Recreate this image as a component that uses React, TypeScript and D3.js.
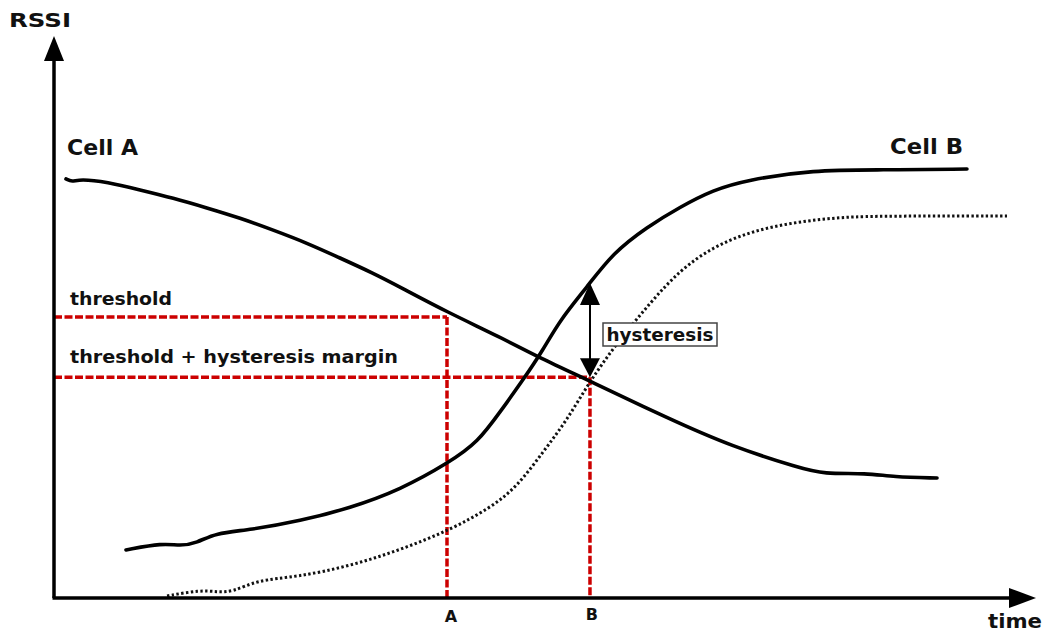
import React from "react";
import * as d3 from "d3";

// Time axis: 0..100, RSSI axis: 0..100 (arbitrary units)
const cellA: [number, number][] = [
  [1.22, 74.56], [1.83, 74.02], [2.65, 74.56], [5.4, 74.02], [8.76, 72.6], [12.12, 71.17],
  [15.58, 69.4], [18.94, 67.62], [22.3, 65.48], [25.76, 63.17], [29.12, 60.5], [32.48, 57.83],
  [35.23, 55.34], [40.02, 50.89], [45.42, 46.44], [49.49, 42.7], [54.58, 38.61], [62.42, 32.03],
  [69.14, 26.87], [75.97, 23.13], [78.31, 22.06], [82.79, 22.24], [85.44, 21.53], [89.92, 21.35],
];

const cellB: [number, number][] = [
  [7.33, 8.54], [11.1, 9.79], [12.83, 9.25], [14.56, 9.79], [16.4, 11.57], [19.96, 12.1],
  [25.05, 13.7], [30.14, 16.01], [35.23, 19.22], [40.33, 24.2], [43.18, 27.76], [45.42, 33.1],
  [47.76, 38.79], [49.8, 44.13], [51.53, 49.47], [54.28, 55.34], [56.92, 61.39], [60.39, 66.01],
  [63.75, 69.57], [67.11, 72.6], [70.57, 74.38], [77.29, 76.16], [84.11, 76.16], [92.97, 76.33],
];

const cellBDelayed: [number, number][] = [
  [11.51, 0.36], [14.87, 1.42], [16.6, 1.07], [18.23, 1.07], [20.67, 3.2], [24.75, 3.74],
  [30.14, 5.69], [35.23, 8.54], [40.33, 12.1], [44.4, 16.01], [47.15, 19.75], [49.95, 26.33],
  [52.24, 31.67], [54.58, 38.61], [57.33, 45.37], [60.69, 52.49], [63.75, 58.36], [67.11, 62.46],
  [70.57, 64.95], [73.93, 66.37], [77.29, 67.26], [80.75, 67.79], [84.11, 67.97], [97.05, 67.97],
];

const THRESHOLD = 50.0;
const MARGIN_LEVEL = 39.3;
const A_TIME = 40.02;
const B_TIME = 54.58;
const HYST_TOP = 56.05;

const tickLabels = ["A", "B"];
const tickTimes = [A_TIME, B_TIME];

const W = 1048;
const H = 632;
const FONT = "'DejaVu Sans', Verdana, sans-serif";
const RED = "#cc0000";

export default function App() {
  const x = d3.scaleLinear().domain([0, 100]).range([54, 1036]);
  const y = d3.scaleLinear().domain([0, 100]).range([598, 36]);
  const line = d3
    .line<[number, number]>()
    .x((d) => x(d[0]))
    .y((d) => y(d[1]))
    .curve(d3.curveBasis);

  const x0 = x(0);
  const y0 = y(0);
  const xEnd = x(100);
  const yEnd = y(100);

  const ax = x(B_TIME);
  const aTop = y(HYST_TOP);
  const aBot = y(MARGIN_LEVEL);

  return (
    <svg
      width={W}
      height={H}
      style={{ position: "absolute", left: 0, top: 0, background: "#fff" }}
      fontFamily={FONT}
    >
      <rect width={W} height={H} fill="#fff" />

      {/* threshold guides */}
      <g stroke={RED} strokeWidth={3.5} strokeDasharray="8,2.5" fill="none">
        <line x1={x0} y1={y(THRESHOLD)} x2={x(A_TIME)} y2={y(THRESHOLD)} />
        <line x1={x(A_TIME)} y1={y(THRESHOLD)} x2={x(A_TIME)} y2={y0} />
        <line x1={x0} y1={y(MARGIN_LEVEL)} x2={x(B_TIME)} y2={y(MARGIN_LEVEL)} />
        <line x1={x(B_TIME)} y1={y(MARGIN_LEVEL)} x2={x(B_TIME)} y2={y0} />
      </g>

      {/* curves */}
      <path d={line(cellBDelayed) || ""} fill="none" stroke="#111" strokeWidth={3} strokeDasharray="2.4,2.4" />
      <path d={line(cellA) || ""} fill="none" stroke="#000" strokeWidth={3.6} strokeLinecap="round" />
      <path d={line(cellB) || ""} fill="none" stroke="#000" strokeWidth={3.6} strokeLinecap="round" />

      {/* axes */}
      <line x1={x0} y1={y0} x2={x0} y2={yEnd + 22} stroke="#000" strokeWidth={3.5} />
      <polygon points={`${x0},${yEnd} ${x0 - 10},${yEnd + 25} ${x0 + 10},${yEnd + 25}`} fill="#000" />
      <line x1={x0 - 1.5} y1={y0} x2={xEnd - 24} y2={y0} stroke="#000" strokeWidth={3.5} />
      <polygon points={`${xEnd},${y0} ${xEnd - 27},${y0 - 10} ${xEnd - 27},${y0 + 10}`} fill="#000" />

      {/* hysteresis double arrow */}
      <line x1={ax} y1={aTop + 15} x2={ax} y2={aBot - 15} stroke="#000" strokeWidth={2} />
      <polygon points={`${ax},${aTop} ${ax - 10},${aTop + 22} ${ax + 10},${aTop + 22}`} fill="#000" />
      <polygon points={`${ax},${aBot} ${ax - 10},${aBot - 19} ${ax + 10},${aBot - 19}`} fill="#000" />

      <rect x={603} y={323} width={114} height={23} fill="#fff" stroke="#444" strokeWidth={1.5} />
      <text x={660} y={340.5} textAnchor="middle" fontSize={17} fontWeight="bold" fill="#111" textLength={107} lengthAdjust="spacingAndGlyphs">
        hysteresis
      </text>

      {/* labels */}
      <text x={9} y={27} fontSize={19} fontWeight="bold" fill="#111" textLength={62} lengthAdjust="spacingAndGlyphs">RSSI</text>
      <text x={67} y={155} fontSize={22} fontWeight="bold" fill="#111" textLength={71} lengthAdjust="spacingAndGlyphs">Cell A</text>
      <text x={890} y={154} fontSize={22} fontWeight="bold" fill="#111" textLength={73} lengthAdjust="spacingAndGlyphs">Cell B</text>
      <text x={70} y={305} fontSize={17} fontWeight="bold" fill="#111" textLength={102} lengthAdjust="spacingAndGlyphs">threshold</text>
      <text x={70} y={363} fontSize={17} fontWeight="bold" fill="#111" textLength={328} lengthAdjust="spacingAndGlyphs">threshold + hysteresis margin</text>
      <text x={988} y={628} fontSize={20} fontWeight="bold" fill="#111" textLength={54} lengthAdjust="spacingAndGlyphs">time</text>

      {tickLabels.map((lab, i) => (
        <text key={lab} x={x(tickTimes[i]) + (i === 0 ? 4 : 2)} y={i === 0 ? 622 : 620} textAnchor="middle" fontSize={16} fontWeight="bold" fill="#111">
          {lab}
        </text>
      ))}
    </svg>
  );
}
